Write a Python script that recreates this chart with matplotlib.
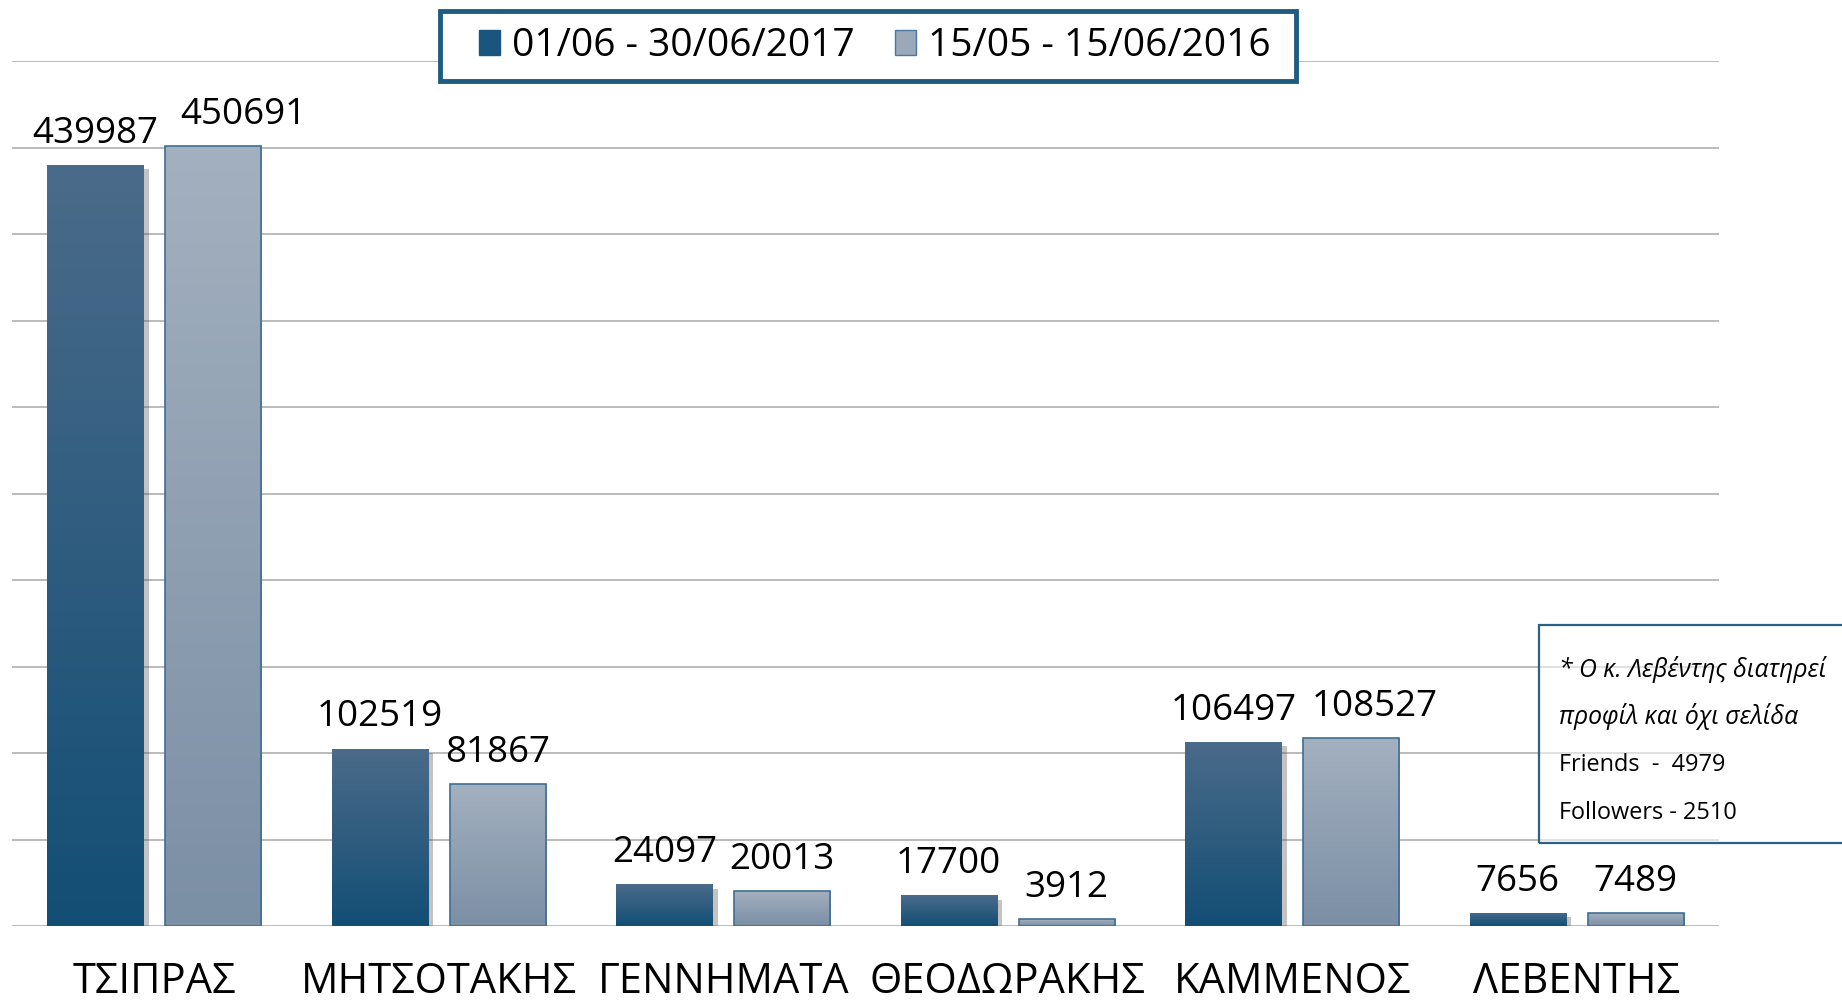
import numpy as np
import matplotlib
matplotlib.use("Agg")
import matplotlib.pyplot as plt
import matplotlib.transforms as mtransforms
import matplotlib.patheffects as pe
from matplotlib.patches import Rectangle, Patch
from matplotlib.colors import LinearSegmentedColormap

# ---- data ----
categories = ["ΤΣΙΠΡΑΣ", "ΜΗΤΣΟΤΑΚΗΣ", "ΓΕΝΝΗΜΑΤΑ", "ΘΕΟΔΩΡΑΚΗΣ", "ΚΑΜΜΕΝΟΣ", "ΛΕΒΕΝΤΗΣ"]
series_2017 = [439987, 102519, 24097, 17700, 106497, 7656]
series_2016 = [450691, 81867, 20013, 3912, 108527, 7489]
legend_labels = ["01/06 - 30/06/2017", "15/05 - 15/06/2016"]
note_lines = ["* Ο κ. Λεβέντης διατηρεί", "προφίλ και όχι σελίδα", "Friends  -  4979", "Followers - 2510"]

# ---- style ----
FONT = ["Open Sans", "DejaVu Sans"]
plt.rcParams["font.family"] = FONT
dark_top, dark_bot = "#4B6B8A", "#134E75"
light_top, light_bot = "#A3B0BF", "#7B8FA5"
edge_blue = "#1F5C80"

fig = plt.figure(figsize=(18.42, 10.07), dpi=100)
ax = fig.add_axes([0.0065, 0.0804, 0.9267, 0.859])
ax.set_xlim(-0.5, len(categories) - 0.5)
ax.set_ylim(0, 500000)
ax.set_yticks(np.arange(0, 500001, 50000))
ax.yaxis.grid(True, color="#A8A8A8", lw=1.1)
ax.set_axisbelow(True)
for s in ax.spines.values():
    s.set_visible(False)
ax.tick_params(left=False, bottom=False, labelleft=False, labelbottom=False)

x = np.arange(len(categories))
w = 0.338
off = 0.207

def grad_fill(bars, top, bot, z):
    cmap = LinearSegmentedColormap.from_list("g", [bot, top])
    g = np.linspace(0, 1, 256).reshape(-1, 1)
    for b in bars:
        x0, y0 = b.get_x(), b.get_y()
        im = ax.imshow(g, cmap=cmap, origin="lower", aspect="auto",
                       extent=[x0, x0 + b.get_width(), y0, y0 + b.get_height()],
                       zorder=z, interpolation="bilinear")
        im.set_clip_path(b)

bars1 = ax.bar(x - off, series_2017, width=w, color=dark_bot, zorder=2,
               path_effects=[pe.SimplePatchShadow(offset=(4, -3), shadow_rgbFace="#555555", alpha=0.35), pe.Normal()])
bars2 = ax.bar(x + off, series_2016, width=w, color=light_bot, zorder=2)
grad_fill(bars1, dark_top, dark_bot, 2.1)
grad_fill(bars2, light_top, light_bot, 2.1)
for b in bars2:
    ax.add_patch(Rectangle((b.get_x(), b.get_y()), b.get_width(), b.get_height(),
                           fill=False, edgecolor="#3F6E93", lw=1.2, zorder=2.2))
ax.set_xlim(-0.5, len(categories) - 0.5)
ax.set_ylim(0, 500000)

# value labels
lab_dx2 = [22, 0, 0, 0, 17, 0]
for i, v in enumerate(series_2017):
    ax.annotate(str(v), (x[i] - off, v), xytext=(0, 16), textcoords="offset points",
                ha="center", va="baseline", fontsize=26.5, color="black")
for i, v in enumerate(series_2016):
    ax.annotate(str(v), (x[i] + off, v), xytext=(lab_dx2[i], 16), textcoords="offset points",
                ha="center", va="baseline", fontsize=26.5, color="black")

# category labels
trans = mtransforms.blended_transform_factory(ax.transData, fig.transFigure)
for i, c in enumerate(categories):
    ax.text(x[i], 0.0135, c, transform=trans, ha="center", va="baseline", fontsize=30, clip_on=False)

# legend (frameless) with a drawn box
handles = [Patch(facecolor="#1A5580", edgecolor="#1A5580"),
           Patch(facecolor="#9AA9BA", edgecolor="#4A78A0")]
fig.patches.append(Rectangle((440 / 1842, 1 - 81 / 1007), 856 / 1842, 70 / 1007,
                             transform=fig.transFigure, facecolor="white",
                             edgecolor=edge_blue, lw=3.5, zorder=3))
leg = fig.legend(handles, legend_labels, loc="center", bbox_to_anchor=(875 / 1842, 1 - 46 / 1007),
                 ncol=2, fontsize=28, frameon=False,
                 handlelength=0.54, handleheight=0.62, handletextpad=0.3, columnspacing=1.05,
                 borderpad=0.1)
leg.set_zorder(4)

# note box
fig.patches.append(Rectangle((0.8355, 0.1629), 0.2, 0.2165, transform=fig.transFigure,
                             facecolor="white", alpha=0.55, edgecolor="none", zorder=5))
fig.patches.append(Rectangle((0.8355, 0.1629), 0.2, 0.2165, transform=fig.transFigure,
                             fill=False, edgecolor="#2A6186", lw=1.6, zorder=6))
ys = [0.3347, 0.288, 0.2403, 0.1927]
sizes = [17.8, 17.8, 16.9, 16.9]
for j, (t, yy) in enumerate(zip(note_lines, ys)):
    fig.text(0.8464, yy, t, fontsize=sizes[j], style="italic" if j < 2 else "normal",
             ha="left", va="center", zorder=7)

fig.savefig("out.png", dpi=100)
